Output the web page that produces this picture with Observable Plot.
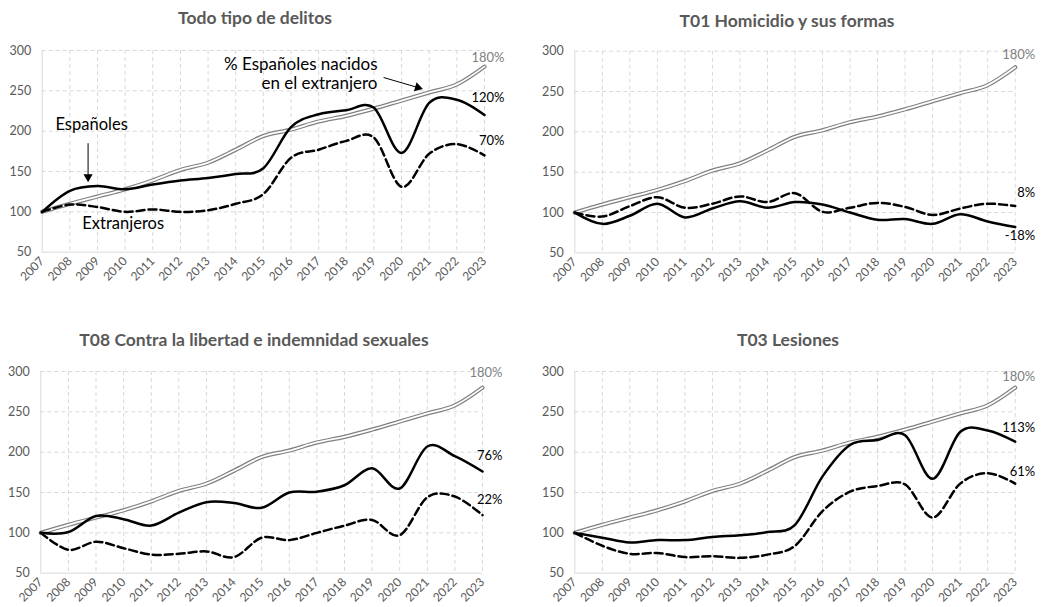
<!DOCTYPE html>
<html><head><meta charset="utf-8">
<script src="https://cdn.jsdelivr.net/npm/d3@7"></script>
<script src="https://cdn.jsdelivr.net/npm/@observablehq/plot@0.6"></script>
<style>
body{margin:0;background:#fff;font-family:Lato,"Open Sans",sans-serif;}
#root{position:relative;width:1050px;height:607px;overflow:hidden;background:#fff;}
.title{position:absolute;transform:translate(-50%,-50%);font-weight:bold;font-size:17.5px;color:#595959;white-space:nowrap;}
.panel{position:absolute;}
</style></head><body><div id="root"></div>
<script>
// ---- data ----
const years = [2007,2008,2009,2010,2011,2012,2013,2014,2015,2016,2017,2018,2019,2020,2021,2022,2023];
const yTicks = [50,100,150,200,250,300];
// % Españoles nacidos en el extranjero (índice 2007 = 100)
const nacidosExtranjero = [100,110,119,128,139,152,161,177,194,202,212,219,228,238,248,258,280];
// Todo tipo de delitos
const todoEspanoles   = [100,126,132,128,134,139,142,147,154,205,221,226,229,173,235,239,220];
const todoExtranjeros = [100,109,106,100,103,100,102,110,122,167,177,188,192,131,172,184,170];
// T01 Homicidio y sus formas
const homEspanoles    = [100,86,96,111,94,105,114,106,113,110,100,91,92,86,98,89,82];
const homExtranjeros  = [100,95,108,119,106,111,120,113,124,101,106,112,107,97,105,111,108];
// T08 Contra la libertad e indemnidad sexuales
const sexEspanoles    = [100,101,121,117,109,125,138,137,131,150,151,159,180,155,207,195,176];
const sexExtranjeros  = [100,79,89,81,73,74,77,70,94,91,100,109,116,97,144,145,122];
// T03 Lesiones
const lesEspanoles    = [100,94,88,91,91,95,97,101,110,170,209,215,221,167,225,227,213];
const lesExtranjeros  = [100,84,74,75,70,71,69,73,84,127,151,158,160,119,161,174,161];

const titles = ["Todo tipo de delitos","T01 Homicidio y sus formas","T08 Contra la libertad e indemnidad sexuales","T03 Lesiones"];
// order: nacidos en el extranjero, españoles, extranjeros
const endLabels = [["180%","120%","70%"],["180%","-18%","8%"],["180%","76%","22%"],["180%","113%","61%"]];

const seriesEsp = [todoEspanoles, homEspanoles, sexEspanoles, lesEspanoles];
const seriesExt = [todoExtranjeros, homExtranjeros, sexExtranjeros, lesExtranjeros];

// ---- layout ----
const panels = [
  {tx:255, ty:17, left:0,   top:35,  height:265, mt:15,   ml:41.7, mr:41,   dy:[-9,-17,-15]},
  {tx:787, ty:20, left:525, top:35,  height:265, mt:15.7, ml:49.3, mr:35.3, dy:[-13,9,-13]},
  {tx:254, ty:339,left:0,   top:355, height:252, mt:16,   ml:40.3, mr:43,   dy:[-15,-16,-15]},
  {tx:788, ty:339,left:525, top:355, height:252, mt:16,   ml:49.3, mr:35.3, dy:[-11,-14,-12]}
];

const root = document.getElementById("root");
const curve = "cardinal";
const grid = {stroke:"#d9d9d9", strokeOpacity:1, strokeDasharray:"4,3"};

panels.forEach((p, k) => {
  const table = years.map((year, i) => ({year, pop: nacidosExtranjero[i], esp: seriesEsp[k][i], ext: seriesExt[k][i]}));
  const last = [table[table.length - 1]];
  const t = document.createElement("div");
  t.className = "title"; t.textContent = titles[k];
  t.style.left = p.tx + "px"; t.style.top = p.ty + "px";
  root.appendChild(t);

  const marks = [
    Plot.gridX(years.slice(1), grid),
    Plot.gridY(yTicks.slice(1), grid),
    Plot.ruleY([50], {stroke:"#d9d9d9"}),
    Plot.ruleX([2007], {stroke:"#d9d9d9"}),
    Plot.axisY(yTicks, {tickSize:0, tickPadding:11, fontSize:12.5, label:null}),
    Plot.axisX(years, {tickSize:0, tickPadding:7, tickRotate:-45, tickFormat:d => String(d), fontSize:12, label:null}),
    Plot.line(table, {x:"year", y:"pop", stroke:"#808080", strokeWidth:4.2, curve}),
    Plot.line(table, {x:"year", y:"pop", stroke:"#ffffff", strokeWidth:1.8, curve}),
    Plot.line(table, {x:"year", y:"ext", stroke:"#000", strokeWidth:2.5, strokeDasharray:"8,4", curve}),
    Plot.line(table, {x:"year", y:"esp", stroke:"#000", strokeWidth:2.5, curve}),
    Plot.text(last, {x:"year", y:"pop", text:() => endLabels[k][0], dx:20, dy:p.dy[0], textAnchor:"end", fill:"#808080", fontSize:13}),
    Plot.text(last, {x:"year", y:"esp", text:() => endLabels[k][1], dx:20, dy:p.dy[1], textAnchor:"end", fill:"#000", fontSize:13}),
    Plot.text(last, {x:"year", y:"ext", text:() => endLabels[k][2], dx:20, dy:p.dy[2], textAnchor:"end", fill:"#000", fontSize:13})
  ];
  if (k === 0) {
    marks.push(
      Plot.text([{x:2019.13, y:272}], {x:"x", y:"y", text:() => "% Españoles nacidos\nen el extranjero", textAnchor:"end", lineAnchor:"middle", lineHeight:1.15, fontSize:17, fill:"#000"}),
      Plot.link([{x1:2019.35, y1:266.5, x2:2020.62, y2:253.8}], {x1:"x1", y1:"y1", x2:"x2", y2:"y2", stroke:"#000", strokeWidth:1}),
      Plot.dot([{x:2020.71, y:252.9}], {x:"x", y:"y", symbol:"triangle", r:3.4, fill:"#000", stroke:"none", rotate:106.3, dx:-3.4, dy:-1}),
      Plot.text([{x:2007.48, y:208.3}], {x:"x", y:"y", text:() => "Españoles", textAnchor:"start", fontSize:16.5, fill:"#000"}),
      Plot.link([{x1:2008.66, y1:185.1, x2:2008.66, y2:143}], {x1:"x1", y1:"y1", x2:"x2", y2:"y2", stroke:"#000", strokeWidth:1}),
      Plot.dot([{x:2008.66, y:138.9}], {x:"x", y:"y", symbol:"triangle", r:3.4, fill:"#000", stroke:"none", rotate:180, dy:-3.5}),
      Plot.text([{x:2008.45, y:85.9}], {x:"x", y:"y", text:() => "Extranjeros", textAnchor:"start", fontSize:16.5, fill:"#000"})
    );
  }
  const chart = Plot.plot({
    width:525, height:p.height,
    marginTop:p.mt, marginLeft:p.ml, marginRight:p.mr, marginBottom:p.height - p.mt - 201.7,
    style:{color:"#595959", fontFamily:"Lato, 'Open Sans', sans-serif", background:"transparent", overflow:"visible"},
    x:{domain:[2007,2023]},
    y:{domain:[50,300]},
    marks
  });
  const d = document.createElement("div");
  d.className = "panel"; d.style.left = p.left + "px"; d.style.top = p.top + "px";
  d.appendChild(chart);
  root.appendChild(d);
});
</script></body></html>
